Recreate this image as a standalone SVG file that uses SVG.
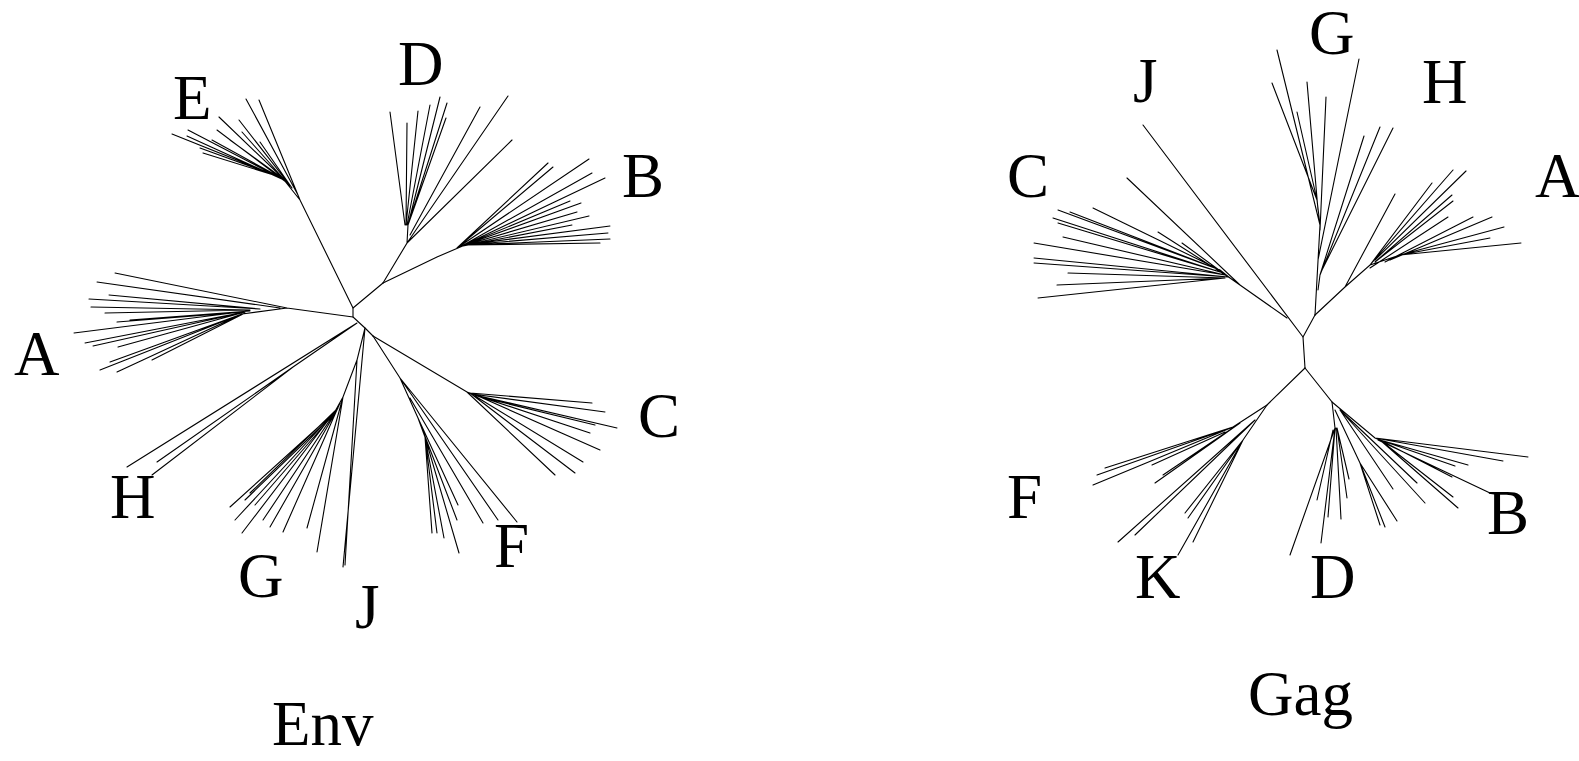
<svg xmlns="http://www.w3.org/2000/svg" width="1579" height="761" viewBox="0 0 1579 761">
<style>
.t{font-family:"Liberation Serif","Times New Roman",serif;font-size:63px;fill:#000}
.br{stroke:#000;stroke-width:1.1;fill:none;stroke-linecap:round}
</style>
<rect width="1579" height="761" fill="#fff"/>
<g id="env-tree" class="br">
  <path id="env-core" d="M353,308 L353,317 L365,328 L373,336 M353,308 L383,283"/>
  <path id="env-E" d="M353,308 L300,200 L284,180 M300,200 L259,100 M298,195 L246,99 M292,188 L239,120 M290,186 L242,132 M292,188 L260,142 M288,183 L219,117 M286,182 L217,130 M284,180 L188,130 M284,180 L187,136 M282,178 L172,134 M280,177 L203,153 M280,177 L200,148 M285,180 L230,140 M285,180 L212,140"/>
  <path id="env-D" d="M383,283 L407,243 L408,225 M407,243 L512,140 M407,243 L508,96 M410,235 L480,107 M408,225 L447,103 M408,225 L446,118 M408,225 L440,97 M407,225 L430,105 M406,225 L418,111 M406,225 L407,123 M405,225 L390,112"/>
  <path id="env-B" d="M383,283 L437,257 L465,245 M457,248 L548,163 M457,248 L553,167 M457,248 L589,159 M460,247 L592,173 M460,247 L605,178 M462,246 L570,201 M462,246 L581,203 M462,246 L577,212 M463,246 L589,216 M463,246 L572,225 M465,245 L610,226 M465,245 L608,233 M465,245 L610,239 M465,245 L600,243"/>
  <path id="env-A" d="M353,317 L287,308 L242,314 M287,308 L115,273 M280,308 L97,282 M260,309 L89,299 M260,309 L109,295 M250,310 L91,307 M250,310 L105,313 M248,311 L74,333 M245,312 L85,343 M245,312 L93,346 M245,312 L117,322 M245,312 L118,347 M242,314 L110,362 M242,314 L100,370 M242,314 L117,372 M245,313 L152,360 M250,311 L130,320"/>
  <path id="env-H" d="M357,323 L127,467 M357,323 L293,367 L157,462 M293,367 L152,475"/>
  <path id="env-GJ" d="M365,328 L357,360 L345,565 M365,328 L343,567 M357,360 L343,397 L333,415 M343,397 L317,552 M343,397 L307,528 M340,403 L283,532 M338,408 L270,527 M338,408 L263,520 M336,410 L250,493 M336,410 L242,533 M335,412 L235,520 M335,412 L230,507 M333,415 L255,505 M333,415 L245,500"/>
  <path id="env-C" d="M373,336 L467,392 L480,397 M470,393 L592,403 M472,394 L605,412 M475,395 L617,428 M478,396 L590,433 M478,396 L600,450 M475,396 L583,462 M470,393 L575,473 M467,392 L555,475 M480,397 L595,425"/>
  <path id="env-F" d="M373,336 L400,378 L418,418 L425,437 M400,378 L517,522 M400,378 L498,520 M410,398 L483,523 M418,418 L457,520 M418,418 L458,505 M425,437 L459,553 M425,437 L444,538 M425,437 L437,533 M425,437 L432,533"/>
</g>
<g id="env-labels" class="t">
  <text x="173" y="119">E</text>
  <text x="398" y="85">D</text>
  <text x="622" y="197">B</text>
  <text x="638" y="437">C</text>
  <text x="494" y="567">F</text>
  <text x="355" y="628">J</text>
  <text x="238" y="597">G</text>
  <text x="110" y="518">H</text>
  <text x="14" y="375">A</text>
  <text x="272" y="745">Env</text>
</g>
<g id="gag-tree" class="br">
  <path id="gag-core" d="M1303,337 L1305,368 M1303,337 L1315,315"/>
  <path id="gag-J" d="M1303,337 L1143,125"/>
  <path id="gag-C" d="M1287,318 L1230,278 M1240,285 L1127,178 M1230,278 L1158,232 M1230,278 L1182,243 M1220,270 L1058,210 M1220,270 L1070,212 M1220,270 L1093,208 M1220,272 L1053,218 M1220,272 L1058,223 M1225,275 L1063,237 M1225,275 L1034,243 M1228,277 L1034,258 M1228,277 L1034,263 M1225,278 L1057,285 M1225,278 L1038,298 M1225,278 L1068,273 M1230,278 L1220,270"/>
  <path id="gag-G" d="M1315,315 L1320,225 L1317,200 M1320,225 L1277,50 M1317,200 L1272,83 M1317,200 L1297,112 M1318,210 L1307,82 M1320,230 L1326,97 M1318,260 L1359,59"/>
  <path id="gag-H" d="M1318,290 L1320,275 M1320,275 L1364,136 M1320,275 L1380,127 M1322,270 L1393,128"/>
  <path id="gag-A" d="M1315,315 L1345,287 L1370,265 L1400,255 M1345,287 L1395,194 M1370,265 L1432,183 M1370,265 L1453,170 M1375,260 L1466,171 M1375,262 L1452,195 M1375,262 L1453,201 M1370,268 L1448,217 M1385,262 L1473,217 M1390,260 L1492,217 M1400,255 L1504,227 M1400,255 L1490,238 M1400,255 L1521,243"/>
  <path id="gag-F" d="M1305,368 L1267,405 L1233,427 M1233,427 L1097,475 M1233,427 L1093,485 M1233,427 L1105,468 M1225,432 L1152,465 M1240,423 L1155,483 M1240,423 L1163,475"/>
  <path id="gag-K" d="M1267,405 L1243,440 M1255,420 L1118,542 M1255,420 L1135,535 M1243,440 L1185,513 M1243,440 L1193,542 M1243,440 L1178,555 M1243,440 L1188,518"/>
  <path id="gag-D" d="M1305,368 L1332,402 L1335,428 M1335,428 L1290,555 M1335,428 L1321,543 M1335,428 L1328,517 M1336,428 L1341,519 M1337,428 L1347,498 M1337,428 L1349,479 M1333,430 L1317,500 M1335,410 L1360,463 M1360,463 L1380,525 M1360,463 L1385,527 M1360,463 L1397,521"/>
  <path id="gag-B" d="M1332,402 L1375,438 L1380,440 M1375,438 L1528,457 M1375,438 L1503,461 M1380,440 L1468,465 M1380,440 L1455,466 M1380,440 L1452,477 M1380,440 L1453,497 M1380,440 L1458,508 M1378,440 L1490,493 M1340,410 L1425,503 M1340,410 L1417,483 M1340,410 L1393,489"/>
</g>
<g id="gag-labels" class="t">
  <text x="1133" y="102">J</text>
  <text x="1007" y="197">C</text>
  <text x="1309" y="54">G</text>
  <text x="1422" y="103">H</text>
  <text x="1535" y="197">A</text>
  <text x="1007" y="518">F</text>
  <text x="1135" y="598">K</text>
  <text x="1310" y="598">D</text>
  <text x="1487" y="534">B</text>
  <text x="1248" y="715">Gag</text>
</g>
</svg>
